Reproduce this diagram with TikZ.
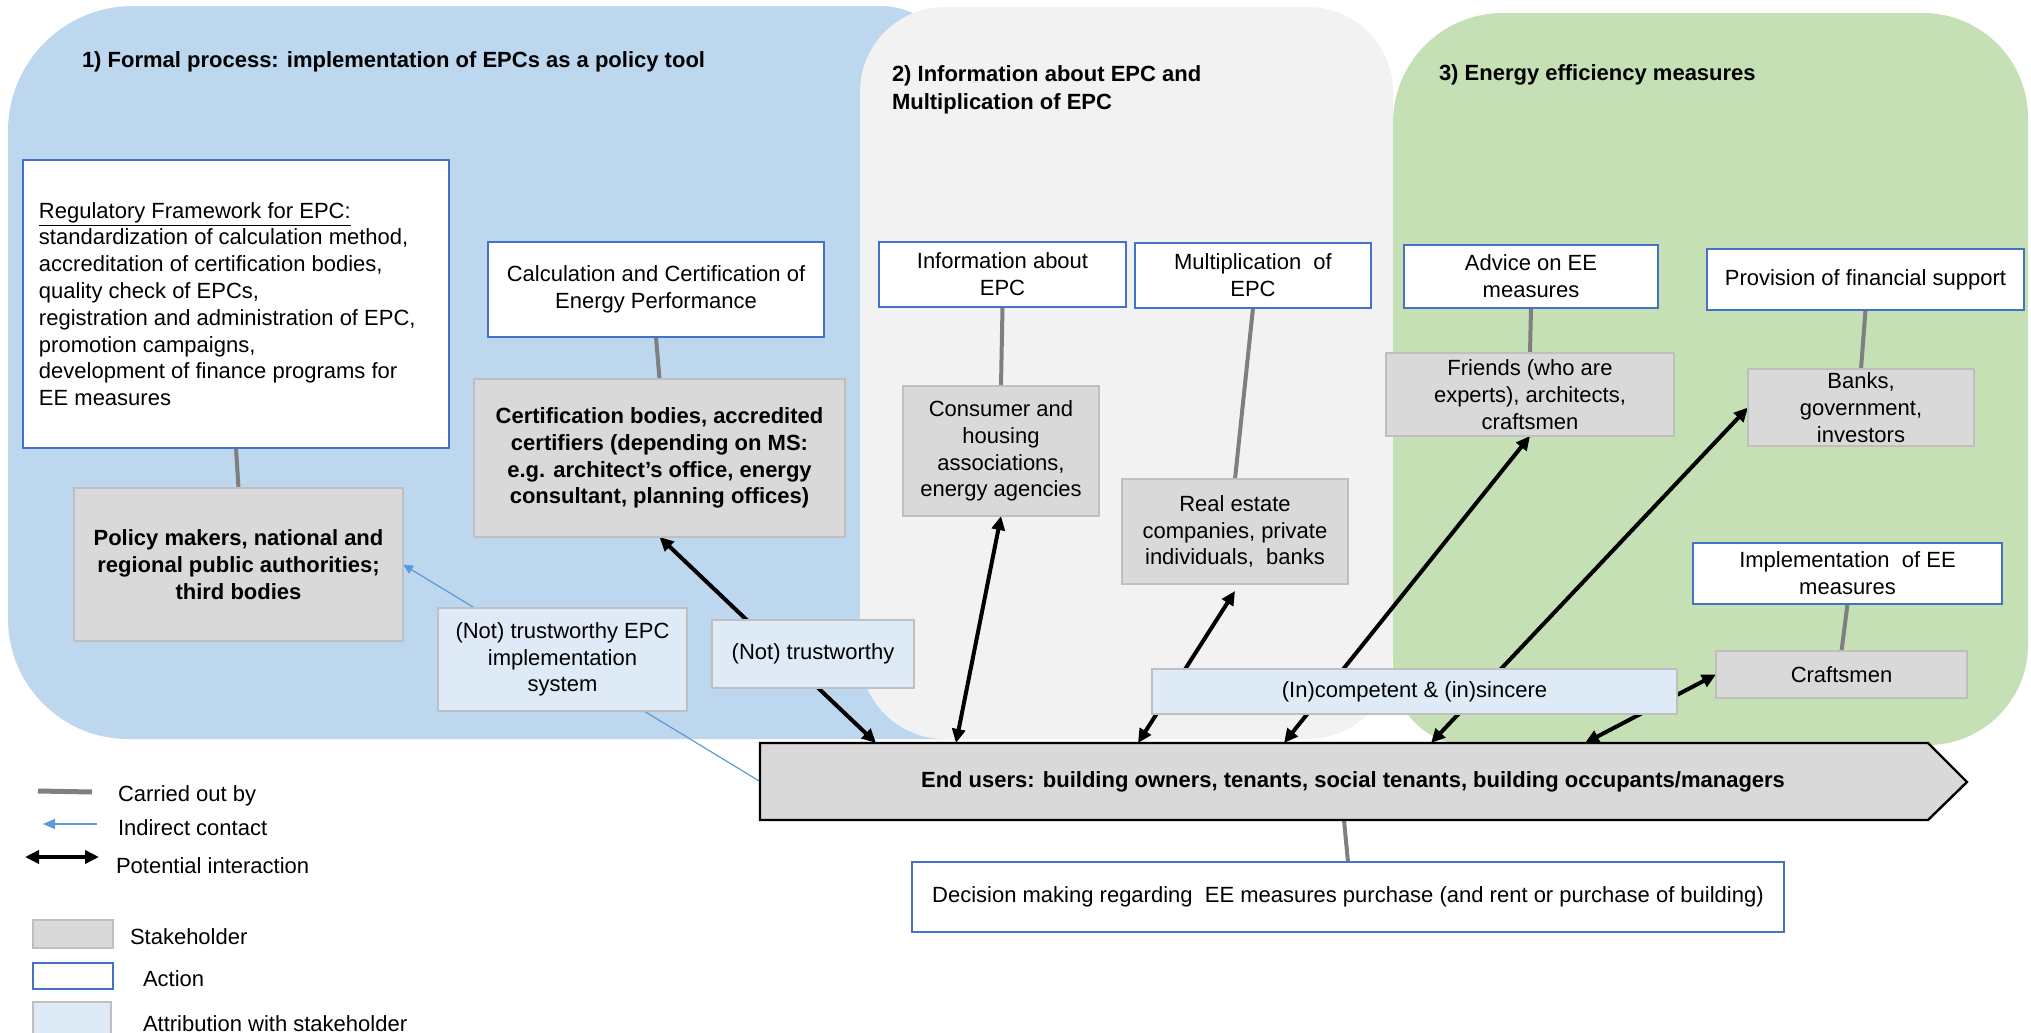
\documentclass[tikz,border=0pt]{standalone}
\usepackage{fontspec}
\setmainfont{Liberation Sans}
\usetikzlibrary{arrows.meta}
\pgfdeclarelayer{bg}
\pgfdeclarelayer{mid}
\pgfsetlayers{bg,mid,main}
\definecolor{regblue}{HTML}{BDD7EE}
\definecolor{reggray}{HTML}{F2F2F2}
\definecolor{reggreen}{HTML}{C5E0B4}
\definecolor{actborder}{HTML}{4472C4}
\definecolor{stkfill}{HTML}{D9D9D9}
\definecolor{stkborder}{HTML}{BFBFBF}
\definecolor{attfill}{HTML}{DEEBF7}
\definecolor{carryline}{HTML}{7F7F7F}
\definecolor{indirect}{HTML}{5B9BD5}
\begin{document}
\begin{tikzpicture}[x=0.5pt,y=-0.5pt,
  every node/.style={font=\fontsize{11pt}{13.4pt}\selectfont, inner sep=0pt, outer sep=0pt},
  sz/.style 2 args={minimum width=#1pt, minimum height=#2pt},
  action/.style={draw=actborder, fill=white, line width=1pt, align=center},
  stake/.style={draw=stkborder, fill=stkfill, line width=1pt, align=center},
  stakeb/.style={stake, font=\fontsize{11pt}{13.4pt}\selectfont\bfseries},
  attr/.style={draw=stkborder, fill=attfill, line width=1pt, align=center},
  carry/.style={draw=carryline, line width=2pt},
  interact/.style={draw=black, line width=2pt, {Triangle[length=7pt,width=6.5pt]}-{Triangle[length=7pt,width=6.5pt]}},
  indir/.style={draw=indirect, line width=0.6pt, -{Triangle[length=5pt,width=4.5pt]}},
  title/.style={font=\fontsize{11pt}{14pt}\selectfont\bfseries, align=left},
  legtext/.style={anchor=base west},
]
\useasboundingbox (0,0) rectangle (2031,1033);

% ---------- regions ----------
\begin{pgfonlayer}{bg}
\fill[regblue] (8,131) .. controls (8,62) and (64,6) .. (133,6) -- (880,6)
  .. controls (924,6) and (960,42) .. (960,86) -- (960,739) -- (128,739)
  .. controls (62,739) and (8,685) .. (8,619) -- cycle;
\fill[reggray, rounded corners=42.5pt] (860,7) rectangle (1393,739);
\fill[reggreen] (1393,123) .. controls (1393,62) and (1442,13) .. (1503,13) -- (1923,13)
  .. controls (1981,13) and (2028,60) .. (2028,118) -- (2028,645)
  .. controls (2028,700) and (1983,745) .. (1928,745) -- (1468,745)
  .. controls (1427,745) and (1393,711) .. (1393,670) -- cycle;
\end{pgfonlayer}

% ---------- titles ----------
\node[title, anchor=base west] (t1) at (82,67) {1) Formal process: implementation of EPCs as a policy tool};
\node[title, anchor=north west] (t2) at (892,66) {2) Information about EPC and\\Multiplication of EPC};
\node[title, anchor=base west] (t3) at (1439,80) {3) Energy efficiency measures};

% ---------- boxes ----------
\node[action, sz={213}{144}] (reg) at (236,304) {};
\node[anchor=west, align=left] (regtxt) at (39,304) {\underline{Regulatory Framework for EPC:}\\
standardization of calculation method,\\
accreditation of certification bodies,\\
quality check of EPCs,\\
registration and administration of EPC,\\
promotion campaigns,\\
development of finance programs for\\
EE measures};

\node[stakeb, sz={164.5}{76.5}] (policy) at (238.5,564.5) {Policy makers, national and\\regional public authorities;\\third bodies};
\node[action, sz={168}{47.5}] (calc) at (656,289.5) {Calculation and Certification of\\Energy Performance};
\node[stakeb, sz={185.5}{79}] (cert) at (659.5,458) {Certification bodies, accredited\\certifiers (depending on MS:\\e.g. architect’s office, energy\\consultant, planning offices)};

\node[action, sz={123.5}{32.5}] (info) at (1002.5,274.5) {Information about\\EPC};
\node[stake, sz={98}{65}] (consumer) at (1001,451) {Consumer and\\housing\\associations,\\energy agencies};
\node[action, sz={118}{32.5}] (mult) at (1253,275.5) {Multiplication \ of\\EPC};
\node[stake, sz={113}{52.5}] (real) at (1235,531.5) {Real estate\\companies, private\\individuals, \ banks};

\node[action, sz={127}{31.5}] (advice) at (1531,276.5) {Advice on EE\\measures};
\node[stake, sz={144}{41.5}] (friends) at (1530,394.5) {Friends (who are\\experts), architects,\\craftsmen};
\node[action, sz={158.5}{30.5}] (prov) at (1865.5,279.5) {Provision of financial support};
\node[stake, sz={113}{38.5}] (banks) at (1861,407.5) {Banks,\\government,\\investors};
\node[action, sz={154.5}{30.5}] (impl) at (1847.5,573.5) {Implementation \ of EE\\measures};
\node[stake, sz={125.5}{23.5}] (craft) at (1841.5,674.5) {Craftsmen};

\node[attr, sz={124.5}{51.5}] (notepc) at (562.5,659.5) {(Not) trustworthy EPC\\implementation\\system};
\node[attr, sz={101}{34}] (nott) at (813,654) {(Not) trustworthy};
\node[attr, sz={262.5}{22.5}] (incomp) at (1414.5,691.5) {(In)competent \& (in)sincere};

% end users (arrow-shaped box)
\filldraw[fill=stkfill, draw=black, line width=1.2pt] (760,743) -- (1928,743) -- (1967,782) -- (1928,820) -- (760,820) -- cycle;
\node[sz={584}{38.5}] (eu) at (1344,781.5) {};
\node[font=\fontsize{11pt}{13.4pt}\selectfont\bfseries] (eutxt) at (1353,782) {End users: building owners, tenants, social tenants, building occupants/managers};

\node[action, sz={436}{35}] (dec) at (1348,897) {Decision making regarding \ EE measures purchase (and rent or purchase of building)};

% arrow end points on the end-user box
\coordinate (e1) at (876,743);
\coordinate (e2) at (956,743);
\coordinate (e3) at (1138,743);
\coordinate (e4) at (1284,743);
\coordinate (e5) at (1431,743);
\coordinate (e6) at (1585,743);

% ---------- connectors ----------
\begin{pgfonlayer}{mid}
\draw[carry] (reg.south) -- (policy.north);
\draw[carry] (calc.south) -- (cert.north);
\draw[carry] (info.south) -- (consumer.north);
\draw[carry] (mult.south) -- (real.north);
\draw[carry] (advice.south) -- (friends.north);
\draw[carry] (prov.south) -- (banks.north);
\draw[carry] (impl.south) -- (craft.north);
\draw[carry] (eu.south) -- (dec.north);

\draw[interact] (cert.south) -- (e1);
\draw[interact] (consumer.south) -- (e2);
\draw[interact] ([yshift=-3.5pt]real.south) -- (e3);
\draw[interact] (friends.south) -- (e4);
\draw[interact] (banks.west) -- (e5);
\draw[interact] (craft.west) -- (e6);

\draw[indir] (eu.west) -- (policy.east);
\end{pgfonlayer}

% ---------- legend ----------
\coordinate (lg1a) at (38,791);
\coordinate (lg1b) at (92,792);
\draw[carry, line width=2.5pt] (lg1a) -- (lg1b);
\node[legtext] (lgt1) at (118,801) {Carried out by};
\coordinate (lg2a) at (97,824);
\coordinate (lg2b) at (43,824);
\draw[indir, -{Triangle[length=6pt,width=5pt]}] (lg2a) -- (lg2b);
\node[legtext] (lgt2) at (118,835) {Indirect contact};
\coordinate (lg3a) at (25,857);
\coordinate (lg3b) at (99,857);
\draw[interact] (lg3a) -- (lg3b);
\node[legtext] (lgt3) at (116,873) {Potential interaction};

\node[stake, sz={40}{14}] (lgstake) at (73,934) {};
\node[legtext] (lgt4) at (130,944) {Stakeholder};
\node[action, sz={40}{13}] (lgact) at (73,976) {};
\node[legtext] (lgt5) at (143,986) {Action};
\node[attr, sz={39}{24}] (lgattr) at (72,1026) {};
\node[legtext] (lgt6) at (143,1031) {Attribution with stakeholder};
\end{tikzpicture}
\end{document}
